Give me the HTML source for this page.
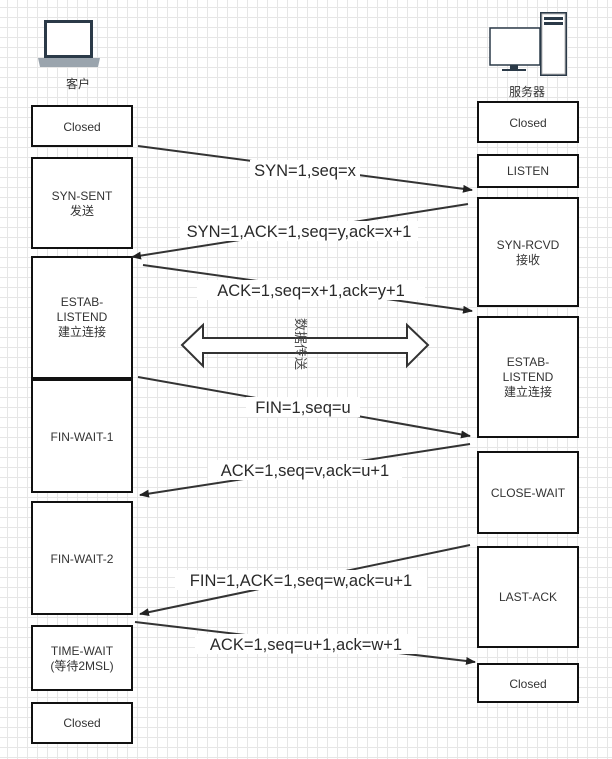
<!DOCTYPE html>
<html><head><meta charset="utf-8"><style>
body{margin:0;width:612px;height:759px;overflow:hidden;background:#fff;
background-image:linear-gradient(#e6e6e6 1px,transparent 1px),linear-gradient(90deg,#e6e6e6 1px,transparent 1px);
background-size:10px 10px;background-position:-3px -3px;font-family:"Liberation Sans","Noto Sans CJK SC",sans-serif}
</style></head><body>
<svg width="612" height="759" style="position:absolute;left:0;top:0" font-family="Liberation Sans, Noto Sans CJK SC, sans-serif">
<defs><marker id="a" markerWidth="10" markerHeight="8" refX="9" refY="4" orient="auto" markerUnits="userSpaceOnUse"><path d="M0,0L10,4L0,8z" fill="#222"/></marker></defs>
<rect x="44" y="20" width="49" height="38" fill="#2b3a48"/>
<rect x="47" y="23" width="43" height="32" fill="#fff"/>
<path d="M38,58h62l-2,9h-58z" fill="#9aa4ad"/>
<text x="78" y="88" font-size="12" text-anchor="middle" fill="#333">客户</text>
<rect x="540" y="12" width="27" height="64" fill="#2b3a48"/>
<rect x="542" y="14" width="23" height="60" fill="#fff" stroke="#bbb"/>
<rect x="544" y="17" width="19" height="3" fill="#2b3a48"/><rect x="544" y="22" width="19" height="3" fill="#2b3a48"/>
<rect x="490" y="28" width="50" height="37" fill="#fff" stroke="#2b3a48" stroke-width="1.5"/>
<rect x="510" y="65" width="8" height="5" fill="#2b3a48"/><rect x="502" y="69" width="24" height="2" fill="#2b3a48"/>
<text x="527" y="96" font-size="12" text-anchor="middle" fill="#333">服务器</text>
<g fill="#fff" stroke="#111" stroke-width="2">
<rect x="32" y="106" width="100" height="40"/><rect x="32" y="158" width="100" height="90"/>
<rect x="32" y="257" width="100" height="121"/><rect x="32" y="380" width="100" height="112"/>
<rect x="32" y="502" width="100" height="112"/><rect x="32" y="626" width="100" height="64"/>
<rect x="32" y="703" width="100" height="40"/>
<rect x="478" y="102" width="100" height="40"/><rect x="478" y="155" width="100" height="32"/>
<rect x="478" y="198" width="100" height="108"/><rect x="478" y="317" width="100" height="120"/>
<rect x="478" y="452" width="100" height="81"/><rect x="478" y="547" width="100" height="100"/>
<rect x="478" y="664" width="100" height="38"/>
</g>
<g font-size="12" text-anchor="middle" fill="#333">
<text x="82" y="131">Closed</text>
<text x="82" y="200">SYN-SENT</text><text x="82" y="215">发送</text>
<text x="82" y="306">ESTAB-</text><text x="82" y="321">LISTEND</text><text x="82" y="336">建立连接</text>
<text x="82" y="441">FIN-WAIT-1</text>
<text x="82" y="563">FIN-WAIT-2</text>
<text x="82" y="655">TIME-WAIT</text><text x="82" y="670">(等待2MSL)</text>
<text x="82" y="727">Closed</text>
<text x="528" y="127">Closed</text><text x="528" y="175">LISTEN</text>
<text x="528" y="249">SYN-RCVD</text><text x="528" y="264">接收</text>
<text x="528" y="366">ESTAB-</text><text x="528" y="381">LISTEND</text><text x="528" y="396">建立连接</text>
<text x="528" y="497">CLOSE-WAIT</text><text x="528" y="601">LAST-ACK</text><text x="528" y="688">Closed</text>
</g>
<g stroke="#333" stroke-width="2" marker-end="url(#a)">
<line x1="138" y1="146" x2="472" y2="190"/><line x1="468" y1="204" x2="132" y2="257"/>
<line x1="143" y1="265" x2="472" y2="311"/><line x1="138" y1="377" x2="470" y2="436"/>
<line x1="470" y1="444" x2="140" y2="495"/><line x1="470" y1="545" x2="140" y2="614"/>
<line x1="135" y1="622" x2="475" y2="662"/>
</g>
<g font-size="16.5" text-anchor="middle" fill="#2a2a2a">
<rect x="250" y="160" width="110" height="20" fill="#fff"/><text x="305" y="176">SYN=1,seq=x</text>
<rect x="180" y="221" width="238" height="20" fill="#fff"/><text x="299" y="237">SYN=1,ACK=1,seq=y,ack=x+1</text>
<rect x="197" y="280" width="228" height="20" fill="#fff"/><text x="311" y="296">ACK=1,seq=x+1,ack=y+1</text>
<rect x="246" y="397" width="114" height="20" fill="#fff"/><text x="303" y="413">FIN=1,seq=u</text>
<rect x="208" y="460" width="194" height="20" fill="#fff"/><text x="305" y="476">ACK=1,seq=v,ack=u+1</text>
<rect x="175" y="570" width="252" height="20" fill="#fff"/><text x="301" y="586">FIN=1,ACK=1,seq=w,ack=u+1</text>
<rect x="195" y="634" width="222" height="20" fill="#fff"/><text x="306" y="650">ACK=1,seq=u+1,ack=w+1</text>
</g>
<path d="M182,345L203,325V338H407V325L428,345L407,366V353H203V366Z" fill="#fff" stroke="#333" stroke-width="2"/>
<text x="0" y="0" font-size="13" fill="#444" transform="translate(296,318) rotate(90)">数据传送</text>
</svg>
</body></html>
